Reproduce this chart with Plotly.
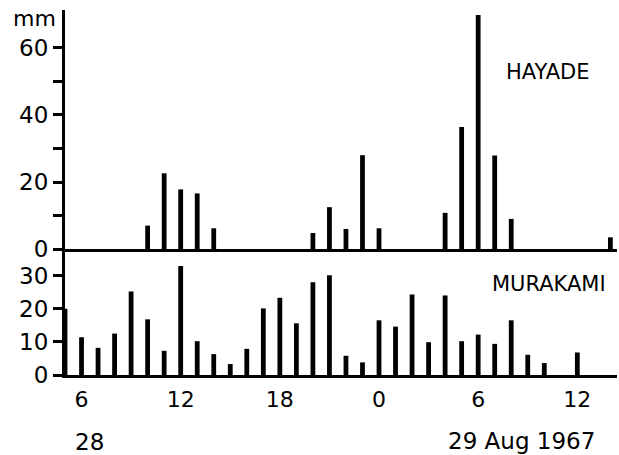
import plotly.graph_objects as go

# Hours counted from 00:00 on 28 Aug 1967 (24 = 00h on 29 Aug)
hayade_hours = [10, 11, 12, 13, 14, 20, 21, 22, 23, 24, 28, 29, 30, 31, 32, 38]
hayade_mm = [7, 22.6, 17.8, 16.6, 6.2, 4.8, 12.5, 6, 28, 6.2, 10.8, 36.4, 69.8, 27.9, 9, 3.5]

murakami_hours = [5, 6, 7, 8, 9, 10, 11, 12, 13, 14, 15, 16, 17, 18, 19, 20, 21,
                  22, 23, 24, 25, 26, 27, 28, 29, 30, 31, 32, 33, 34, 36]
murakami_mm = [20, 11.4, 8.2, 12.5, 25.2, 16.8, 7.3, 32.9, 10.2, 6.3, 3.3, 7.9, 20.1,
               23.3, 15.6, 28, 30.1, 5.8, 3.8, 16.5, 14.6, 24.3, 9.9, 24, 10.2, 12.2,
               9.4, 16.5, 6.1, 3.6, 6.8]

x_tickvals = [6, 12, 18, 24, 30, 36]
x_ticktext = ["6", "12", "18", "0", "6", "12"]
top_tickvals = [0, 10, 20, 30, 40, 50, 60]
top_ticktext = ["0", "", "20", "", "40", "", "60"]
bot_tickvals = [0, 10, 20, 30]

FONT = "DejaVu Sans"
BAR_W = 0.29

fig = go.Figure()
fig.add_trace(go.Bar(x=hayade_hours, y=hayade_mm, width=BAR_W, marker_color="black",
                     marker_line_width=0, xaxis="x2", yaxis="y2"))
fig.add_trace(go.Bar(x=murakami_hours, y=murakami_mm, width=BAR_W, marker_color="black",
                     marker_line_width=0, xaxis="x", yaxis="y"))

axis_common = dict(showline=True, linecolor="black", linewidth=3, showgrid=False,
                   zeroline=False)


def label(text, x, y, size):
    return dict(text=text, x=x, y=y, xref="paper", yref="paper", showarrow=False,
                xanchor="center", yanchor="middle", font=dict(size=size))


fig.update_layout(
    width=619, height=455,
    margin=dict(l=65, r=2, t=10, b=80),
    paper_bgcolor="white", plot_bgcolor="white",
    showlegend=False,
    font=dict(family=FONT, size=23, color="black"),
    xaxis=dict(**axis_common, domain=[0, 1], range=[5, 38.4], anchor="y",
               tickvals=x_tickvals, ticktext=x_ticktext, ticks="",
               ticklabelstandoff=3, tickfont=dict(size=22)),
    xaxis2=dict(**axis_common, domain=[0, 1], range=[5, 38.4], anchor="y2",
                matches="x", showticklabels=False, ticks=""),
    yaxis=dict(**axis_common, domain=[0, 0.345], range=[0, 38], anchor="x",
               tickvals=bot_tickvals, ticks="outside", ticklen=9, tickwidth=3,
               tickcolor="black", tickfont=dict(size=23)),
    yaxis2=dict(**axis_common, domain=[0.345, 1], range=[0, 71.3], anchor="x2",
                tickvals=top_tickvals, ticktext=top_ticktext, ticks="outside",
                ticklen=9, tickwidth=3, tickcolor="black", tickfont=dict(size=23)),
    annotations=[
        label("mm", -0.056, 0.978, 22),
        label("HAYADE", 0.875, 0.830, 21),
        label("MURAKAMI", 0.877, 0.249, 21),
        label("28", 0.0435, -0.183, 23),
        label("29 Aug 1967", 0.827, -0.181, 23),
    ],
)

fig.write_html("out.html")
